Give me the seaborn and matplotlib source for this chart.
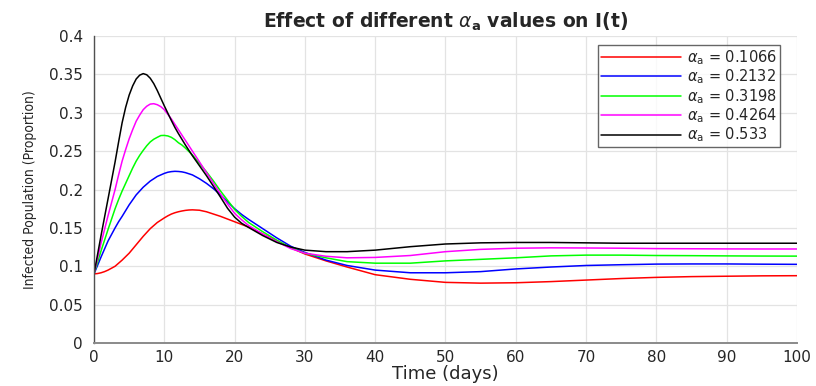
import numpy as np
import pandas as pd
import seaborn as sns
import matplotlib.pyplot as plt

# values (time in days)
days = [0, 0.5, 1, 1.5, 2, 2.5, 3, 3.5, 4, 4.5, 5, 5.5, 6, 6.5, 7, 7.5, 8, 8.5,
        9, 9.5, 10, 10.5, 11, 11.5, 12, 12.5, 13, 13.5, 14,
        15, 16, 17, 18, 19, 20, 21, 22, 24, 26, 28, 30, 33, 36, 40, 45, 50, 55,
        60, 65, 70, 75, 80, 85, 90, 95, 100]

alpha_labels = ["0.1066", "0.2132", "0.3198", "0.4264", "0.533"]
line_colors = ["#ff0000", "#0000ff", "#00ff00", "#ff00ff", "#000000"]

i_red = [0.0900, 0.0905, 0.0915, 0.093, 0.095, 0.0975, 0.100, 0.104, 0.108, 0.1125,
         0.117, 0.1225, 0.128, 0.1335, 0.139, 0.144, 0.149, 0.153, 0.157, 0.160,
         0.163, 0.1657, 0.168, 0.1697, 0.171, 0.172, 0.1728, 0.1733, 0.1735,
         0.173, 0.171, 0.168, 0.165, 0.1615, 0.158, 0.1545, 0.151, 0.142, 0.133,
         0.124, 0.116, 0.107, 0.099, 0.089, 0.083, 0.079, 0.078, 0.0785, 0.080,
         0.082, 0.084, 0.0855, 0.0865, 0.087, 0.0875, 0.0877]
i_blue = [0.090, 0.101, 0.112, 0.1225, 0.133, 0.1415, 0.150, 0.158, 0.165, 0.1725,
          0.180, 0.1865, 0.193, 0.198, 0.203, 0.207, 0.211, 0.214, 0.217, 0.219,
          0.221, 0.2225, 0.2233, 0.2237, 0.2235, 0.223, 0.222, 0.2205, 0.219,
          0.214, 0.208, 0.201, 0.193, 0.184, 0.175, 0.1675, 0.161, 0.149, 0.137,
          0.126, 0.118, 0.108, 0.101, 0.095, 0.0915, 0.0915, 0.093, 0.0965, 0.099,
          0.101, 0.102, 0.1028, 0.103, 0.103, 0.1027, 0.1025]
i_green = [0.090, 0.105, 0.120, 0.134, 0.148, 0.1615, 0.175, 0.187, 0.198, 0.208,
           0.218, 0.228, 0.237, 0.2445, 0.251, 0.257, 0.262, 0.2655, 0.268, 0.2703,
           0.2705, 0.2698, 0.268, 0.265, 0.261, 0.258, 0.254, 0.2495, 0.245,
           0.234, 0.223, 0.211, 0.198, 0.186, 0.174, 0.165, 0.157, 0.145, 0.134,
           0.124, 0.117, 0.111, 0.106, 0.104, 0.104, 0.107, 0.109, 0.111, 0.1135,
           0.1145, 0.1145, 0.114, 0.1138, 0.1135, 0.1133, 0.1132]
i_magenta = [0.090, 0.110, 0.130, 0.148, 0.166, 0.183, 0.200, 0.219, 0.237, 0.252,
             0.266, 0.278, 0.289, 0.297, 0.304, 0.3085, 0.3113, 0.3118, 0.3105, 0.308,
             0.304, 0.298, 0.292, 0.285, 0.278, 0.271, 0.264, 0.257, 0.250,
             0.236, 0.222, 0.208, 0.194, 0.181, 0.169, 0.1605, 0.153, 0.142, 0.132,
             0.123, 0.117, 0.113, 0.111, 0.1115, 0.114, 0.119, 0.122, 0.1235, 0.124,
             0.1238, 0.1235, 0.123, 0.1228, 0.1226, 0.1225, 0.1225]
i_black = [0.090, 0.115, 0.140, 0.164, 0.188, 0.212, 0.236, 0.262, 0.287, 0.307,
           0.323, 0.335, 0.344, 0.349, 0.351, 0.3495, 0.345, 0.338, 0.329, 0.319,
           0.309, 0.2995, 0.290, 0.281, 0.273, 0.2655, 0.258, 0.251, 0.244,
           0.231, 0.218, 0.204, 0.190, 0.1755, 0.164, 0.156, 0.1505, 0.140, 0.131,
           0.125, 0.121, 0.119, 0.119, 0.121, 0.1255, 0.129, 0.1305, 0.131, 0.131,
           0.1305, 0.130, 0.130, 0.130, 0.130, 0.130, 0.130]

series = [i_red, i_blue, i_green, i_magenta, i_black]
rows = []
for lab, vals in zip(alpha_labels, series):
    for t, v in zip(days, vals):
        rows.append({"t": t, "I": v, "alpha": r"$\alpha_{\rm a}$ = " + lab})
df = pd.DataFrame(rows)

sns.set_style("white")
plt.rcParams["font.family"] = ["DejaVu Sans"]

fig = plt.figure(figsize=(8.16, 3.86), dpi=100)
ax = fig.add_axes([0.1152, 0.1114, 0.8615, 0.7953])

sns.lineplot(data=df, x="t", y="I", hue="alpha", palette=line_colors,
             linewidth=1.1, ax=ax)

ax.set_xlim(0, 100)
ax.set_ylim(0, 0.4)
ax.set_xticks(np.arange(0, 101, 10))
ax.set_yticks(np.arange(0, 0.41, 0.05))
ax.set_yticklabels(["0", "0.05", "0.1", "0.15", "0.2", "0.25", "0.3", "0.35", "0.4"])
ax.grid(True, color="#e3e3e3", linewidth=0.9)
ax.set_axisbelow(True)

for s in ["top", "right"]:
    ax.spines[s].set_visible(False)
ax.spines["left"].set_color("#505050")
ax.spines["bottom"].set_color("#8a8a8a")
ax.spines["left"].set_linewidth(1.0)
ax.spines["bottom"].set_linewidth(1.4)
ax.tick_params(direction="in", length=4, width=0.8, colors="#505050",
               labelcolor="#262626", labelsize=11)
ax.tick_params(axis="y", pad=8)
ax.tick_params(axis="x", pad=5)

ax.set_xlabel("Time (days)", fontsize=13, color="#262626", labelpad=0)
ax.set_ylabel("Infected Population (Proportion)", fontsize=10, color="#262626",
              family="DejaVu Sans", fontstretch="condensed", labelpad=9)
ax.set_title(r"Effect of different $\alpha_{\mathbf{a}}$ values on I(t)",
             fontsize=13.5, fontweight="bold", pad=6)

leg = ax.legend(loc="upper right", bbox_to_anchor=(0.98, 0.98), fontsize=10.5,
                handlelength=5.5, handletextpad=0.4, labelspacing=0.05,
                borderpad=0.2, borderaxespad=0.2, frameon=True, fancybox=False)
leg.get_frame().set_edgecolor("#404040")
leg.get_frame().set_linewidth(1.0)

fig.savefig("out.png", dpi=100)
